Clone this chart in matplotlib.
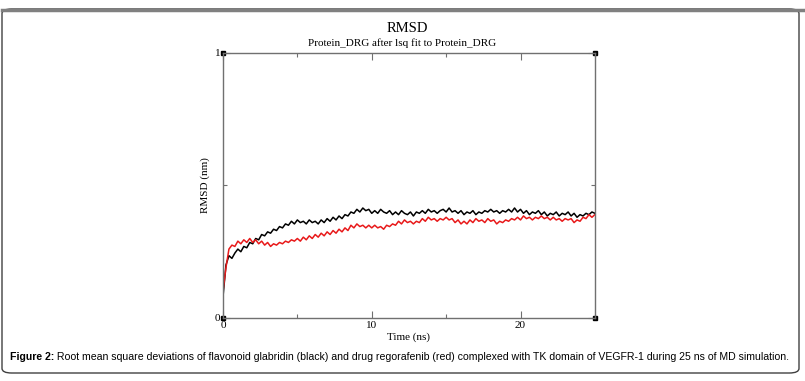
import numpy as np
import matplotlib
matplotlib.use("Agg")
import matplotlib.pyplot as plt
from matplotlib import font_manager
from matplotlib.patches import FancyBboxPatch
from matplotlib.lines import Line2D

time_ns = np.round(np.arange(0, 25.01, 0.2), 1)

glabridin = [
    0.08, 0.20, 0.235, 0.225, 0.245, 0.26, 0.25, 0.27, 0.265, 0.285,
    0.28, 0.30, 0.295, 0.315, 0.31, 0.325, 0.32, 0.335, 0.33, 0.345,
    0.34, 0.355, 0.35, 0.365, 0.355, 0.37, 0.36, 0.365, 0.355, 0.37,
    0.36, 0.365, 0.355, 0.37, 0.36, 0.375, 0.365, 0.38, 0.37, 0.385,
    0.375, 0.39, 0.385, 0.40, 0.395, 0.41, 0.40, 0.415, 0.405, 0.41,
    0.395, 0.405, 0.395, 0.41, 0.40, 0.395, 0.405, 0.39, 0.40, 0.39,
    0.405, 0.395, 0.39, 0.40, 0.385, 0.40, 0.395, 0.405, 0.395, 0.41,
    0.40, 0.405, 0.395, 0.405, 0.41, 0.40, 0.415, 0.40, 0.405, 0.395,
    0.405, 0.39, 0.40, 0.395, 0.405, 0.39, 0.40, 0.395, 0.405, 0.40,
    0.41, 0.40, 0.405, 0.395, 0.405, 0.40, 0.41, 0.40, 0.415, 0.40,
    0.41, 0.395, 0.405, 0.39, 0.40, 0.395, 0.405, 0.39, 0.40, 0.385,
    0.395, 0.39, 0.40, 0.385, 0.395, 0.39, 0.40, 0.385, 0.395, 0.38,
    0.39, 0.385, 0.395, 0.39, 0.40, 0.395,
]

regorafenib = [
    0.10, 0.19, 0.26, 0.275, 0.27, 0.29, 0.28, 0.295, 0.285, 0.30,
    0.285, 0.295, 0.28, 0.29, 0.275, 0.285, 0.27, 0.28, 0.275, 0.285,
    0.28, 0.29, 0.285, 0.295, 0.29, 0.30, 0.29, 0.305, 0.295, 0.31,
    0.30, 0.315, 0.305, 0.32, 0.31, 0.325, 0.315, 0.33, 0.32, 0.335,
    0.325, 0.34, 0.33, 0.35, 0.34, 0.355, 0.345, 0.35, 0.34, 0.35,
    0.34, 0.35, 0.34, 0.345, 0.335, 0.35, 0.345, 0.355, 0.35, 0.365,
    0.355, 0.37, 0.36, 0.365, 0.355, 0.365, 0.36, 0.375, 0.365, 0.38,
    0.37, 0.375, 0.365, 0.375, 0.37, 0.38, 0.37, 0.375, 0.36, 0.37,
    0.355, 0.365, 0.355, 0.37, 0.36, 0.375, 0.365, 0.37, 0.36, 0.375,
    0.365, 0.37, 0.355, 0.365, 0.36, 0.37, 0.365, 0.375, 0.37, 0.38,
    0.37, 0.385, 0.375, 0.38, 0.37, 0.38, 0.375, 0.385, 0.375, 0.38,
    0.37, 0.38, 0.37, 0.375, 0.365, 0.375, 0.37, 0.375, 0.36, 0.37,
    0.365, 0.38, 0.375, 0.39, 0.38, 0.39,
]

title = "RMSD"
subtitle = "Protein_DRG after lsq fit to Protein_DRG"
caption_bold = "Figure 2:"
caption_rest = (" Root mean square deviations of flavonoid glabridin (black) and drug "
                "regorafenib (red) complexed with TK domain of VEGFR-1 during 25 ns of MD simulation.")

serif = ["Liberation Serif", "DejaVu Serif"]
installed = {f.name for f in font_manager.fontManager.ttflist}
if "Liberation Sans Narrow" in installed:
    sans = ["Liberation Sans Narrow", "Liberation Sans"]
    cap_size = 8.8
else:
    sans = ["Liberation Sans", "DejaVu Sans"]
    cap_size = 7.55
axis_grey = "#707070"

fig = plt.figure(figsize=(8.05, 3.81), dpi=100)
ax = fig.add_axes([0.277, 0.1654, 0.462, 0.6955])

ax.plot(time_ns, glabridin, color="black", lw=1.1)
ax.plot(time_ns, regorafenib, color="#e8191a", lw=1.1)

ax.set_xlim(0, 25)
ax.set_ylim(0, 1)
ax.set_xticks([0, 10, 20])
ax.set_xticks([5, 15, 25], minor=True)
ax.set_yticks([0, 1])
ax.set_yticks([0.5], minor=True)
ax.tick_params(which="both", direction="in", top=True, right=True, color=axis_grey,
               width=0.8, labelsize=8, pad=2)
ax.tick_params(which="major", length=5)
ax.tick_params(which="minor", length=3)
for lab in ax.get_xticklabels() + ax.get_yticklabels():
    lab.set_family(serif)
for sp in ax.spines.values():
    sp.set_color(axis_grey)
    sp.set_linewidth(1.0)

# small square markers at the corners of the frame
for cx, cy in [(0, 0), (1, 0), (0, 1), (1, 1)]:
    ax.plot(cx, cy, marker="s", ms=3, color="black", transform=ax.transAxes, clip_on=False)

ax.set_xlabel("Time (ns)", family=serif, fontsize=8, labelpad=2)
ax.set_ylabel("RMSD (nm)", family=serif, fontsize=8, labelpad=3)

fig.text(407 / 805, 1 - 28 / 381, title, family=serif, fontsize=10.5, ha="center", va="center")
fig.text(402 / 805, 1 - 43 / 381, subtitle, family=serif, fontsize=8, ha="center", va="center")

# outer frame of the figure box
frame = FancyBboxPatch((2 / 805, 8 / 381), 797 / 805, 364 / 381,
                       boxstyle="round,pad=0,rounding_size=0.012",
                       transform=fig.transFigure, fill=False, edgecolor="#404040", lw=1.0)
fig.patches.append(frame)
fig.lines.append(Line2D([2 / 805, 1.0], [1 - 10 / 381, 1 - 10 / 381],
                        transform=fig.transFigure, color="#808080", lw=2.5))

# caption with bold label
cy = 1 - 357 / 381
t1 = fig.text(10 / 805, cy, caption_bold, family=sans, fontsize=cap_size, weight="bold", va="center")
fig.canvas.draw()
bb = t1.get_window_extent()
fig.text(bb.x1 / fig.bbox.width, cy, caption_rest, family=sans, fontsize=cap_size, va="center")

fig.savefig("out.png", dpi=100)
